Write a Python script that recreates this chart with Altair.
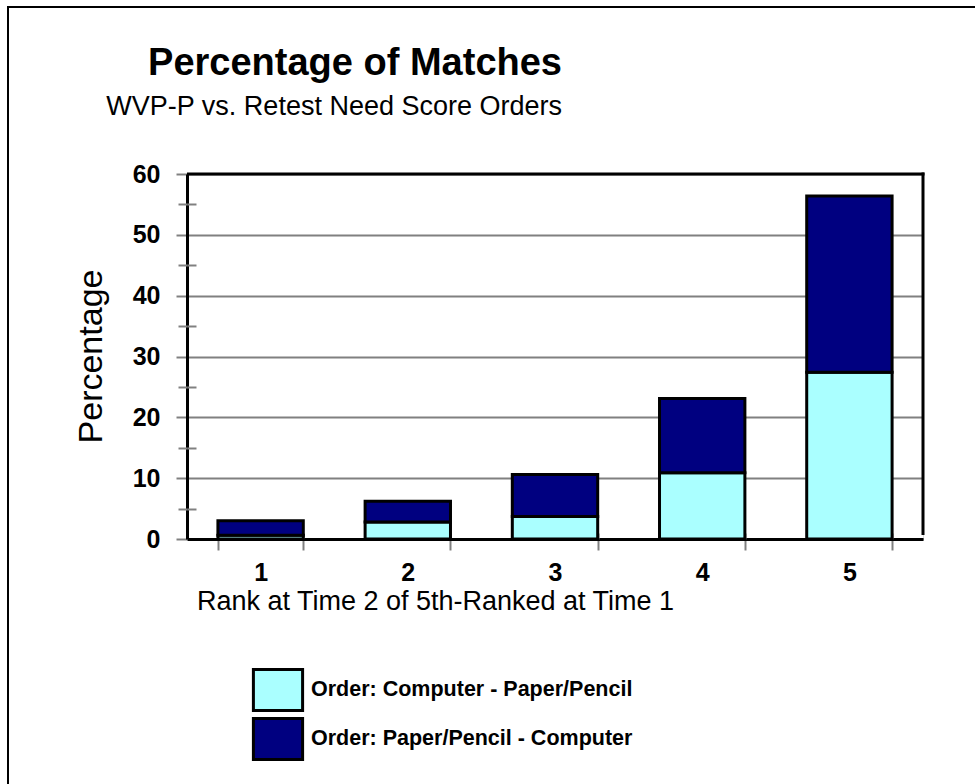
import altair as alt
import pandas as pd

# Stacked percentages per rank, one list per test order
ranks = ["1", "2", "3", "4", "5"]
orders = ["Order: Computer - Paper/Pencil", "Order: Paper/Pencil - Computer"]
computer_first = [0.6, 2.8, 3.7, 10.9, 27.4]
paper_first = [2.4, 3.4, 6.9, 12.2, 29.0]
order_colors = ["#AAFFFF", "#000080"]
y_major = [0, 10, 20, 30, 40, 50, 60]
y_minor = [5, 15, 25, 35, 45, 55]

title_text = "Percentage of Matches"
subtitle_text = "WVP-P vs. Retest Need Score Orders"

rows = []
for i, r in enumerate(ranks):
    rows.append({"rank": r, "order": orders[0], "value": computer_first[i], "stack_pos": 0})
    rows.append({"rank": r, "order": orders[1], "value": paper_first[i], "stack_pos": 1})
df = pd.DataFrame(rows)

FONT = "Liberation Sans"
GREY = "#808080"
W, H = 736, 365

x_scale = alt.Scale(domain=ranks, paddingInner=0.42, paddingOuter=0.21)
y_scale = alt.Scale(domain=[0, 60], nice=False, zero=True)

bars = alt.Chart(df).mark_bar(stroke="black", strokeWidth=3).encode(
    x=alt.X("rank:N", scale=x_scale, sort=ranks, axis=alt.Axis(
        title="Rank at Time 2 of 5th-Ranked at Time 1", labelAngle=0,
        tickBand="extent", tickSize=11, tickColor=GREY, tickWidth=2,
        domainColor="black", domainWidth=3,
        labelFont=FONT, labelFontSize=25, labelFontWeight="bold",
        labelColor="black", labelPadding=10,
        titleFont=FONT, titleFontSize=27, titleFontWeight="normal", titleColor="black",
        titleX=248, titleY=70, titleBaseline="alphabetic", titleAlign="center")),
    y=alt.Y("value:Q", stack="zero", scale=y_scale, axis=alt.Axis(
        values=y_major, title="Percentage", grid=True, gridColor=GREY, gridWidth=2,
        tickSize=11, tickColor=GREY, tickWidth=2, domainColor="black", domainWidth=3,
        labelFont=FONT, labelFontSize=25, labelFontWeight="bold",
        labelPadding=16, labelColor="black",
        titleFont=FONT, titleFontSize=34, titleFontWeight="normal", titleAngle=270,
        titleX=-86, titleY=182, titleAlign="center", titleBaseline="alphabetic",
        titleColor="black")),
    color=alt.Color("order:N", scale=alt.Scale(domain=orders, range=order_colors),
                    legend=alt.Legend(
                        title=None, orient="none", legendX=69, legendY=494,
                        direction="vertical", symbolType="M-1.2,-1H1.2V1H-1.2Z",
                        symbolSize=1681, symbolStrokeColor="black", symbolStrokeWidth=3,
                        symbolOpacity=1, labelFont=FONT, labelFontSize=21.5,
                        labelFontWeight="bold", labelColor="black", labelOffset=11,
                        labelLimit=600, rowPadding=-5, padding=0)),
    order=alt.Order("stack_pos:Q"),
)

# Minor y ticks crossing the axis line, and x ticks reaching into the plot
minor_out = alt.Chart(df).mark_point(opacity=0).encode(
    x=alt.X("rank:N", scale=x_scale, sort=ranks, axis=None),
    y=alt.Y("value:Q", scale=y_scale, axis=alt.Axis(
        orient="left", values=y_minor, labels=False, domain=False, grid=False,
        title=None, tickSize=9, tickColor=GREY, tickWidth=2)),
)
minor_in = alt.Chart(df).mark_point(opacity=0).encode(
    x=alt.X("rank:N", scale=x_scale, sort=ranks, axis=alt.Axis(
        orient="bottom", offset=-6, tickBand="extent", labels=False, domain=False,
        grid=False, title=None, tickSize=6, tickColor=GREY, tickWidth=2)),
    y=alt.Y("value:Q", scale=y_scale, axis=alt.Axis(
        orient="left", offset=-9, values=y_minor, labels=False, domain=False,
        grid=False, title=None, tickSize=9, tickColor=GREY, tickWidth=2)),
)

title = alt.Chart(pd.DataFrame({"line": [title_text]})).mark_text(
    align="right", baseline="alphabetic", font=FONT, fontSize=38,
    fontWeight="bold", color="black").encode(
    x=alt.value(375), y=alt.value(-99), text="line:N")
subtitle = alt.Chart(pd.DataFrame({"line": [subtitle_text]})).mark_text(
    align="right", baseline="alphabetic", font=FONT, fontSize=27,
    color="black").encode(
    x=alt.value(375), y=alt.value(-59), text="line:N")

# Outer frame of the chart (top and left edges)
frame_df = pd.DataFrame({"k": [0]})
frame_top = alt.Chart(frame_df).mark_rule(color="black", strokeWidth=2).encode(
    x=alt.value(-180), x2=alt.value(800), y=alt.value(-167))
frame_left = alt.Chart(frame_df).mark_rule(color="black", strokeWidth=2).encode(
    x=alt.value(-179), y=alt.value(-168), y2=alt.value(620))

# Plot-area border on the top and right sides
plot_top = alt.Chart(frame_df).mark_rule(color="black", strokeWidth=3).encode(
    x=alt.value(0), x2=alt.value(W + 1.5), y=alt.value(0))
plot_right = alt.Chart(frame_df).mark_rule(color="black", strokeWidth=3).encode(
    x=alt.value(W), y=alt.value(-1.5), y2=alt.value(H - 4))

chart = alt.layer(
    frame_top, frame_left, bars, minor_out, minor_in, plot_top, plot_right,
    title, subtitle
).resolve_axis(
    x="independent", y="independent"
).properties(
    width=W, height=H,
    autosize=alt.AutoSizeParams(type="none"),
    padding={"left": 187, "top": 174, "right": 52, "bottom": 245},
).configure_view(
    stroke=None
).configure(background="white")

chart.save("out.html", embed_options={"renderer": "svg", "actions": False})
